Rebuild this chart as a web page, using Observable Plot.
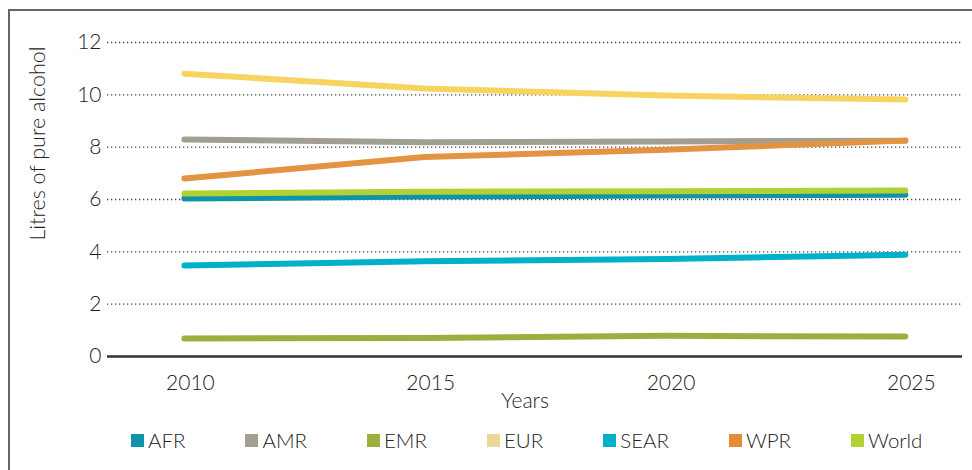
<!DOCTYPE html>
<html>
<head>
<meta charset="utf-8">
<script src="https://cdn.jsdelivr.net/npm/d3@7"></script>
<script src="https://cdn.jsdelivr.net/npm/@observablehq/plot@0.6"></script>
<style>
  html, body { margin: 0; padding: 0; background: #fff; overflow: hidden; }
  body { width: 972px; height: 470px; position: relative; font-family: Lato, "Open Sans", sans-serif; font-weight: 300; color: #222; }
  #frame { position: absolute; left: 8px; top: 9px; width: 1100px; height: 600px; border-left: 2px solid #666; border-top: 2px solid #666; box-sizing: border-box; }
  #chart { position: absolute; left: 0; top: 0; }
  #legend { position: absolute; left: 131px; top: 428px; display: flex; gap: 60px; align-items: center; font-size: 20.5px; color: #222; white-space: nowrap; }
  .item { display: flex; align-items: center; }
  .sw { width: 13px; height: 13px; margin-right: 4px; }
  svg text { font-weight: 300; }
</style>
</head>
<body>
<div id="frame"></div>
<div id="chart"></div>
<div id="legend"></div>
<script>
// ---- data ----
const years = [2010, 2015, 2020, 2025];
const regions = ["AFR", "AMR", "EMR", "EUR", "SEAR", "WPR", "World"];
const afr   = [6.04, 6.11, 6.15, 6.18];
const amr   = [8.29, 8.19, 8.22, 8.25];
const emr   = [0.69, 0.71, 0.79, 0.76];
const eur   = [10.81, 10.24, 9.97, 9.82];
const sear  = [3.48, 3.64, 3.73, 3.89];
const wpr   = [6.80, 7.62, 7.90, 8.25];
const world = [6.23, 6.30, 6.32, 6.34];
const yTicks = [0, 2, 4, 6, 8, 10, 12];
const xTicks = [2010, 2015, 2020, 2025];

// ---- styles ----
const lineColors   = ["#0f93a8", "#a29f91", "#9cae3d", "#f7d462", "#00b1c9", "#e39443", "#b1d235"];
const legendColors = ["#0f93a8", "#a29f91", "#9cae3d", "#ecd698", "#00b1c9", "#e38c33", "#b1d235"];

const seriesValues = [afr, amr, emr, eur, sear, wpr, world];
const table = [];
regions.forEach((r, i) => years.forEach((y, j) => table.push({region: r, year: y, value: seriesValues[i][j]})));

const plot = Plot.plot({
  width: 972,
  height: 412,
  marginTop: 42,
  marginBottom: 56,
  marginLeft: 107,
  marginRight: 10,
  style: {fontFamily: "Lato, 'Open Sans', sans-serif", fontSize: "21px", color: "#222", background: "transparent"},
  x: {domain: [2008.4, 2026.19], label: null},
  y: {domain: [0, 12], label: null},
  color: {domain: regions, range: lineColors},
  marks: [
    Plot.ruleY(yTicks.filter(d => d > 0), {stroke: "#444", strokeWidth: 1.3, strokeDasharray: "1.3,2.7"}),
    Plot.axisY({ticks: yTicks, tickSize: 0, tickPadding: 6, tickFormat: d => String(d), fontSize: 21, fill: "#222"}),
    Plot.axisX({ticks: xTicks, tickSize: 0, tickPadding: 19, tickFormat: d => String(d), fontSize: 21, fill: "#222", dx: 6, label: null}),
    Plot.line(table, {x: "year", y: "value", z: "region", stroke: "region", strokeWidth: 6, strokeLinecap: "round", strokeLinejoin: "round"}),
    Plot.ruleY([0], {stroke: "#333", strokeWidth: 2.5}),
    Plot.text(["Years"], {frameAnchor: "bottom", text: d => d, dx: -10, dy: 45, fontSize: 21, fill: "#222", lineAnchor: "middle"}),
    Plot.text(["Litres of pure alcohol"], {frameAnchor: "left", text: d => d, rotate: -90, dx: -69, dy: -56, fontSize: 21.5, fill: "#222", textAnchor: "middle", lineAnchor: "middle"})
  ]
});
document.getElementById("chart").appendChild(plot);

const legend = document.getElementById("legend");
regions.forEach((r, i) => {
  const it = document.createElement("div");
  it.className = "item";
  const sw = document.createElement("span");
  sw.className = "sw";
  sw.style.background = legendColors[i];
  const tx = document.createElement("span");
  tx.textContent = r;
  it.appendChild(sw); it.appendChild(tx);
  legend.appendChild(it);
});
</script>
</body>
</html>
